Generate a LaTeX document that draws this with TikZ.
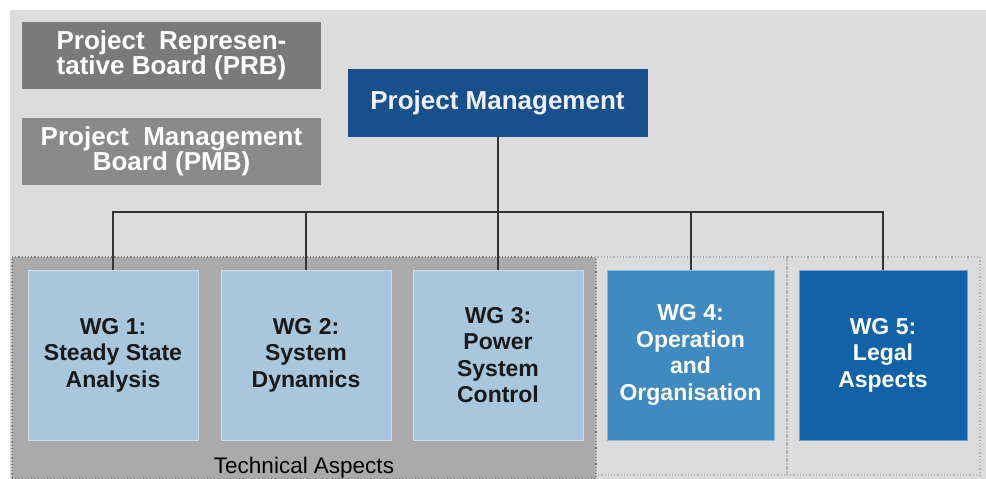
\documentclass[tikz,border=0pt]{standalone}
\usepackage{fontspec}
\setmainfont{Liberation Sans}
\usepackage{tikz}
\usetikzlibrary{positioning}
\definecolor{bggray}{HTML}{DCDCDC}
\definecolor{prbgray}{HTML}{7A7A7A}
\definecolor{pmbgray}{HTML}{8A8A8A}
\definecolor{techgray}{HTML}{AAAAAA}
\definecolor{wglight}{HTML}{A8C6DC}
\definecolor{wgmid}{HTML}{3F8AC1}
\definecolor{wgdark}{HTML}{1262A7}
\definecolor{pmblue}{HTML}{17508A}
\definecolor{linegray}{HTML}{333333}

\begin{document}
\begin{tikzpicture}[x=1pt, y=-1pt]
    \tikzstyle{board}=[rectangle, minimum width=299pt, minimum height=67pt, inner sep=0pt, align=center, text=white, font=\fontsize{26}{25}\selectfont\bfseries]
    \tikzstyle{wg}=[rectangle, minimum width=170pt, minimum height=170pt, inner sep=0pt, align=center, line width=1pt, font=\fontsize{23}{26.5}\selectfont\bfseries]
    \tikzstyle{area}=[rectangle, inner sep=0pt, dotted, line width=1.2pt]
    \tikzstyle{link}=[draw=linegray, line width=2pt]
    \useasboundingbox (0,0) rectangle (986,479);
    % background
    \fill[bggray] (10,10) rectangle (986,479);
    % areas below the bus
    \node[area, fill=techgray, draw=gray, minimum width=584pt, minimum height=222pt] (tech) at (304,368) {};
    \node[area, draw=gray!60, minimum width=192pt, minimum height=218pt] (oparea) at (691,366) {};
    \node[area, draw=gray!60, minimum width=193pt, minimum height=218pt] (legarea) at (883.5,366) {};
    \node[font=\fontsize{22.5}{27}\selectfont, text=black] (techlbl) at (304,468) {Technical Aspects};
    % boards
    \node[board, fill=prbgray] (prb) at (171.5,55) {Project~~Represen-\\tative Board (PRB)};
    \node[board, fill=pmbgray] (pmb) at (171.5,151.5) {Project~~Management\\Board (PMB)};
    \node[board, fill=pmblue, minimum width=300pt, minimum height=68pt, text=blue!6] (pm) at (497.5,102.5) {Project Management};
    % working groups
    \node[wg, fill=wglight, draw=wglight!60!white, text=black!90] (wg1) at (113,355) {WG 1:\\Steady State\\Analysis};
    \node[wg, fill=wglight, draw=wglight!60!white, text=black!90] (wg2) at (306,355) {WG 2:\\System\\Dynamics};
    \node[wg, fill=wglight, draw=wglight!60!white, text=black!90] (wg3) at (498,355) {WG 3:\\Power\\System\\Control};
    \node[wg, fill=wgmid, draw=wgmid!60!white, text=white, minimum width=167pt] (wg4) at (690.5,355) {WG 4:\\Operation\\and\\Organisation};
    \node[wg, fill=wgdark, draw=wgdark!60!white, text=white, minimum width=168pt] (wg5) at (883,355) {WG 5:\\Legal\\Aspects};
    % bus
    \foreach \i in {1,...,5}
    {\draw[link] (pm.south) -- ++(0,75) -| (wg\i.north);}
\end{tikzpicture}
\end{document}
